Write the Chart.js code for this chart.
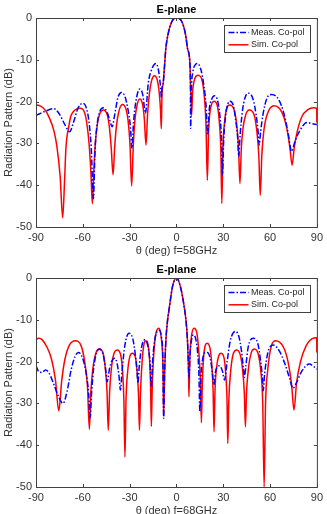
<!DOCTYPE html>
<html>
<head>
<meta charset="utf-8">
<script src="https://cdn.jsdelivr.net/npm/chart.js@4"></script>
<style>
  html, body { margin: 0; padding: 0; background: #fff; overflow: hidden; }
  canvas { position: absolute; left: 0; }
  #c58 { top: 0; }
  #c68 { top: 260px; }
</style>
</head>
<body>
<canvas id="c58" width="327" height="257"></canvas>
<canvas id="c68" width="327" height="257"></canvas>
<script>
const FONT = '"Liberation Sans", Arial, sans-serif';
const plotTitle = 'E-plane';
const yTitle = 'Radiation Pattern (dB)';
const xTitles = ['θ (deg) f=58GHz', 'θ (deg) f=68GHz'];
const seriesLabels = ['Meas. Co-pol', 'Sim. Co-pol'];
const xTicks = [-90, -60, -30, 0, 30, 60, 90];
const yTicks = [-50, -40, -30, -20, -10, 0];

// [theta (deg), dB] read off the measured / simulated curves
const meas58 = [
  [-90,-23.3],[-84,-22.3],[-78.6,-21.7],[-75,-23],[-71.5,-25.5],[-68.5,-27.2],[-66,-25],[-63,-21.5],[-60,-20.4],
  [-57.5,-21.8],[-56,-25],[-54.6,-31],[-53.2,-43.2],
  [-52.2,-32],[-51,-26],[-49.3,-22.6],[-46.9,-21.5],
  [-44.5,-22.5],[-42.7,-24.5],[-41.2,-26],
  [-39.5,-23],[-37.5,-19],[-35.3,-17.8],
  [-33,-18.8],[-31,-22],[-29.5,-26],[-28.5,-31.2],
  [-27.5,-25],[-26,-20],[-23.5,-17],
  [-21.5,-18.5],[-19.9,-22.8],
  [-18,-15.5],[-15.5,-12],[-13.1,-10.9],
  [-11.5,-12.5],[-10.3,-16],[-9.6,-19],
  [-9.3,-17],[-8.4,-15.3],[-7.6,-11.3],[-6.8,-7.3],[-5.5,-4.1],[-3,-0.9],[0,0],[3.5,-0.9],[5.9,-4.1],[7.1,-7.3],[8.7,-11.3],[8.95,-15.3],[9.1,-26.4],
  [9.6,-17],[10.5,-13],[12,-11.2],[13.5,-10.9],
  [15.8,-12.5],[17.5,-16],[19,-21],[20,-28],
  [21,-22],[22.5,-19.5],[24.5,-18.6],
  [26.5,-20],[28,-24],[29,-30],[29.5,-37.6],
  [30.3,-29],[31.5,-23.5],[33,-20.5],[34.4,-19.9],
  [36.5,-21],[38,-24.5],[39.2,-28.5],[39.9,-33.2],
  [40.8,-28],[42.2,-22.5],[44,-19],[46.2,-18],
  [49,-19.3],[51,-23],[52.3,-27],[53,-30.4],
  [54,-27],[55.5,-23],[58,-19.2],[61,-18.3],
  [65.5,-19.5],[69,-23],[71.8,-28],[73.7,-31.9],
  [76,-29.5],[79,-27],[83.6,-25],[87,-25.3],[90,-25.5]
];
const sim58 = [
  [-90,-23.5],[-89.9,-20.8],[-87,-21.1],[-84,-22.1],[-81.8,-23.6],[-78.5,-27],[-76.5,-31],[-74.5,-38],[-72.9,-47.8],
  [-71.6,-38],[-70.8,-31],[-69,-26],[-67.6,-23.4],[-65,-22],[-61.7,-21.6],
  [-59,-22.5],[-57.5,-25],[-56,-30],[-54.8,-37],[-53.9,-44.4],
  [-53,-37],[-52,-30],[-50.5,-25],[-49,-22.8],[-46.9,-22],
  [-44.5,-23],[-43,-26],[-41.8,-31],[-40.6,-37.5],
  [-39.6,-31],[-38.5,-26],[-37,-22.5],[-34.7,-20.7],
  [-32.3,-21.8],[-31,-24.5],[-29.8,-30],[-28.7,-40.2],
  [-27.6,-30],[-26.5,-24],[-25.2,-20.8],[-23.5,-19.4],
  [-21.8,-20.5],[-20.6,-24],[-19.5,-30.4],
  [-18.5,-23],[-17.3,-18],[-15.8,-14.8],[-14.1,-13.8],
  [-12.3,-14.8],[-11,-18],[-10.2,-22],[-9.7,-26.5],
  [-9.3,-19],[-8.4,-15.3],[-7.6,-11.3],[-6.8,-7.3],[-5.5,-4.1],[-3,-0.9],[0,0],[3.5,-0.9],[5.9,-4.1],[7.1,-7.3],[8.7,-11.3],[8.95,-15.3],[9.35,-19],[9.7,-23.3],
  [10.3,-18],[11.2,-15.3],[12.4,-14],[13.9,-13.7],
  [16.5,-15],[17.8,-18.5],[18.9,-25],[19.8,-38.8],
  [20.6,-27],[21.5,-22.5],[22.7,-20.4],[24.1,-19.9],
  [26.2,-21],[27.4,-24.5],[28.4,-31],[29.1,-44.4],
  [29.8,-31],[30.8,-25],[32.2,-21.6],[34,-20.8],
  [37,-22],[38.6,-25.5],[39.8,-31],[40.7,-39.6],
  [41.6,-31],[42.8,-26],[44.5,-23],[46.7,-22],
  [49.8,-23.2],[51.5,-27],[52.8,-33],[53.7,-42.4],
  [54.7,-33],[56,-27],[58.5,-22.7],[62.5,-21],
  [67.5,-22.5],[70.5,-26],[72.7,-31],[74.1,-35.2],
  [75.5,-31],[77.5,-27],[80.5,-23.5],[84,-22],[88,-21.5],[89.9,-21.6],[90,-25]
];
const meas68 = [
  [-90,-21],[-88,-22.5],[-86,-22.6],[-84,-22],[-82,-22.5],[-79,-25],[-76,-28],[-72.7,-30],
  [-70,-27],[-67.5,-22],[-65,-18.8],[-62.8,-17.8],
  [-60,-19.3],[-58,-22.5],[-56.3,-27.5],[-55.3,-33.4],
  [-54.3,-27],[-53,-21.5],[-51.3,-18],[-49.4,-17],
  [-47,-18.3],[-45.5,-21.5],[-44.4,-24.8],
  [-42.8,-21.5],[-41,-19.6],[-39.5,-19.2],
  [-38,-20.5],[-36.8,-23.5],[-35.9,-26.8],
  [-34.8,-22],[-33,-16],[-30.4,-13.2],
  [-28,-14.5],[-26.3,-18.5],[-25.2,-22.5],[-24.7,-25.2],
  [-23.8,-21],[-22.3,-16.5],[-20.3,-14.8],
  [-18.5,-16],[-17,-20],[-16.1,-26],
  [-15.2,-19.5],[-13.5,-14],[-11,-12.5],
  [-9.5,-14.5],[-8.7,-19],[-8.2,-33.6],
  [-7.6,-23],[-6.8,-15.2],[-5.8,-10.5],[-4.6,-7.2],[-2.5,-2],[0,0],[2.5,-2],[5.1,-7.2],[6.2,-10.5],[7.1,-15.2],[7.6,-20],[8,-24],
  [8.8,-18],[9.6,-15],[10.8,-13.6],
  [12.3,-14.5],[13.5,-17.5],[14.4,-23],[15,-32],
  [15.8,-23],[17,-19],[18.5,-17.8],[19.8,-17.8],
  [21.8,-19.5],[23,-22.5],[24,-25.6],
  [25,-22.5],[26.3,-21.2],[27.7,-21],
  [29.5,-22.3],[30.8,-24.4],
  [32.5,-20],[34.5,-15],[37.8,-12.8],
  [40,-14],[41.7,-17.5],[43,-22],[43.5,-23.8],
  [44.5,-21],[46,-16.5],[49.2,-14.4],
  [52,-15.5],[54,-20],[55.1,-24],[55.6,-27],
  [56.5,-23],[58.5,-18],[61.9,-16],
  [66,-17.5],[69.5,-20.5],[72.5,-24],[74.6,-26.4],
  [77,-25],[80,-22.5],[85.2,-20.6],[88,-21.2],[90,-21.8]
];
const sim68 = [
  [-90,-18],[-89.9,-14.8],[-88,-14.4],[-86,-14.8],
  [-83,-16.5],[-80,-19.5],[-77.5,-24.5],[-75.4,-31.8],
  [-73.5,-24.5],[-71.5,-19.5],[-68.5,-16],[-64.8,-15],
  [-61,-16.3],[-58.8,-20],[-57,-26],[-55.8,-36.2],
  [-54.8,-27],[-53.5,-21.5],[-51.5,-17.8],[-49.4,-17],
  [-47,-18],[-45.6,-21.5],[-44.5,-27],[-43.7,-36.4],
  [-42.8,-27],[-41.5,-21],[-39.8,-17.8],[-38,-17.2],
  [-35.8,-18.3],[-34.6,-22],[-33.7,-29],[-33,-42.8],
  [-32.3,-29],[-31.3,-22.5],[-29.8,-18.7],[-28.3,-18],
  [-26.3,-19],[-25.2,-22.5],[-24.3,-28],[-23.7,-36.4],
  [-23,-27],[-22,-20],[-20.8,-15.8],[-19.5,-15],
  [-18,-16.3],[-17,-21],[-16.5,-27],[-16.1,-35.5],
  [-15.5,-26],[-14.5,-18],[-13,-13],[-11.2,-12],
  [-10,-13.5],[-9,-17.5],[-8.6,-22],[-8.2,-33],
  [-7.6,-23],[-6.8,-15.2],[-5.8,-10.5],[-4.6,-7.2],[-2.5,-2],[0,0],[2.5,-2],[5.1,-7.2],[6.2,-10.5],[7.1,-15.2],[7.8,-23.2],[8,-28.4],
  [8.6,-19],[9.6,-14],[11.3,-12],
  [13,-13],[14.2,-17],[15.3,-24],[16,-34.6],
  [16.6,-25],[17.4,-19],[18.4,-16.2],[19.6,-15.6],
  [21.5,-16.8],[22.7,-21],[23.5,-27],[24.1,-36.8],
  [24.7,-27],[25.7,-21.5],[27,-18.7],[28.7,-18],
  [30.6,-19.3],[31.6,-23],[32.4,-29],[32.9,-39.6],
  [33.6,-29],[34.7,-22.5],[36.5,-18],[38.6,-17.2],
  [41,-18.5],[42.4,-22],[43.5,-27.5],[44.2,-35.6],
  [44.9,-27.5],[46.2,-21.5],[48,-17.8],[49.9,-17],
  [52.5,-18.3],[54,-22],[55.3,-30],[56.2,-50],
  [57.1,-30],[58.5,-22],[60.8,-16.3],[63.6,-15],
  [68.5,-16.5],[71.5,-20],[73.8,-25.5],[75.3,-31.6],
  [77,-25],[79.5,-20],[83,-16.3],[87,-14.5],[89.9,-14.3],[90,-17.8]
];

// box round the axes, inward tick marks and the legend inside the plot
const framePlugin = {
  id: 'frame',
  afterDraw(chart) {
    const { ctx, chartArea: a, scales: { x, y } } = chart;
    ctx.save();
    ctx.strokeStyle = '#404040';
    ctx.lineWidth = 1;
    ctx.strokeRect(a.left + 0.5, a.top + 0.5, a.right - a.left, a.bottom - a.top);
    ctx.beginPath();
    x.ticks.forEach(t => {
      const px = Math.round(x.getPixelForValue(t.value)) + 0.5;
      ctx.moveTo(px, a.bottom); ctx.lineTo(px, a.bottom - 3);
      ctx.moveTo(px, a.top); ctx.lineTo(px, a.top + 3);
    });
    y.ticks.forEach(t => {
      const py = Math.round(y.getPixelForValue(t.value)) + 0.5;
      ctx.moveTo(a.left, py); ctx.lineTo(a.left + 3, py);
      ctx.moveTo(a.right, py); ctx.lineTo(a.right - 3, py);
    });
    ctx.stroke();

    // legend
    const sets = chart.data.datasets;
    ctx.font = '9px ' + FONT;
    const tw = Math.max(...sets.map(d => ctx.measureText(d.label).width));
    const w = Math.round(tw + 32), h = 27;
    const bx = Math.round(a.right - 7 - w), by = Math.round(a.top + 7);
    ctx.fillStyle = '#fff';
    ctx.fillRect(bx, by, w, h);
    ctx.strokeStyle = '#404040';
    ctx.strokeRect(bx + 0.5, by + 0.5, w, h);
    sets.forEach((d, i) => {
      const ly = by + 7.5 + i * 12.3;
      ctx.strokeStyle = d.borderColor;
      ctx.lineWidth = d.borderWidth;
      ctx.setLineDash(d.borderDash || []);
      ctx.beginPath();
      ctx.moveTo(bx + 4.5, ly); ctx.lineTo(bx + 24.5, ly);
      ctx.stroke();
      ctx.setLineDash([]);
      ctx.fillStyle = '#262626';
      ctx.textBaseline = 'middle';
      ctx.textAlign = 'left';
      ctx.fillText(d.label, bx + 27, ly);
    });
    ctx.restore();
  }
};

function makeChart(id, meas, sim, xTitle) {
  return new Chart(document.getElementById(id), {
    type: 'line',
    data: {
      datasets: [
        {
          label: seriesLabels[0],
          data: meas.map(([x, y]) => ({ x, y })),
          borderColor: '#0000ff',
          borderWidth: 1.5,
          borderDash: [6, 2, 1.5, 2]
        },
        {
          label: seriesLabels[1],
          data: sim.map(([x, y]) => ({ x, y })),
          borderColor: '#ff0000',
          borderWidth: 1.5
        }
      ]
    },
    options: {
      responsive: false,
      animation: false,
      devicePixelRatio: 1,
      layout: { padding: { left: 0, right: 7, top: 0, bottom: 0 } },
      elements: {
        point: { radius: 0 },
        line: { cubicInterpolationMode: 'monotone' }
      },
      plugins: {
        legend: { display: false },
        tooltip: { enabled: false },
        title: {
          display: true,
          text: plotTitle,
          fullSize: false,
          color: '#000',
          font: { family: FONT, size: 11, weight: 'bold', lineHeight: '13px' },
          padding: { top: 3, bottom: 2 }
        }
      },
      scales: {
        x: {
          type: 'linear',
          min: -90,
          max: 90,
          afterBuildTicks: s => { s.ticks = xTicks.map(v => ({ value: v })); },
          afterFit: s => { s.height = 30; },
          grid: { display: false, drawTicks: false },
          border: { display: false },
          ticks: { padding: 4, color: '#333', maxRotation: 0, autoSkip: false, font: { family: FONT, size: 11 } },
          title: {
            display: true,
            text: xTitle,
            color: '#333',
            font: { family: FONT, size: 11, lineHeight: '13px' },
            padding: { top: 0, bottom: 0 }
          }
        },
        y: {
          type: 'linear',
          min: -50,
          max: 0,
          afterBuildTicks: s => { s.ticks = yTicks.map(v => ({ value: v })); },
          afterFit: s => { s.width = 36; },
          grid: { display: false, drawTicks: false },
          border: { display: false },
          ticks: { padding: 4, color: '#333', font: { family: FONT, size: 11 } },
          title: {
            display: true,
            text: yTitle,
            color: '#333',
            font: { family: FONT, size: 11, lineHeight: '13px' },
            padding: { top: 2, bottom: 0 }
          }
        }
      }
    },
    plugins: [framePlugin]
  });
}

makeChart('c58', meas58, sim58, xTitles[0]);
makeChart('c68', meas68, sim68, xTitles[1]);
</script>
</body>
</html>
